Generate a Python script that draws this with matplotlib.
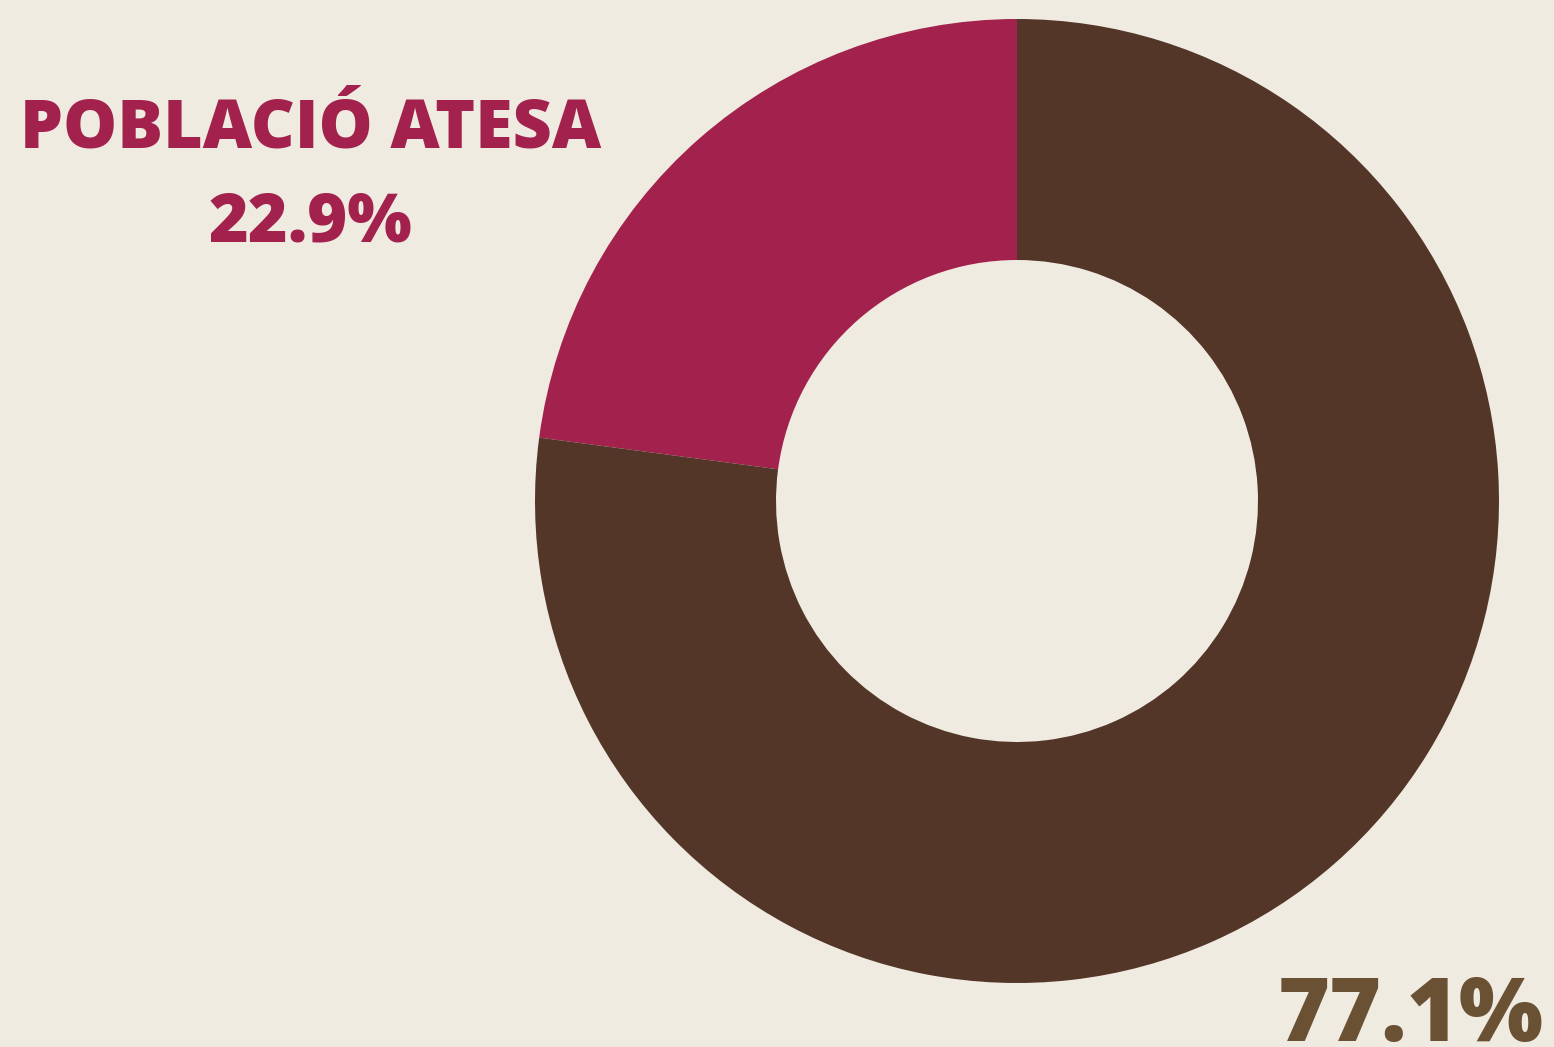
import matplotlib
matplotlib.use("Agg")
import matplotlib.pyplot as plt

labels = ["POBLACIÓ ATESA", "Resta"]
values = [22.9, 77.1]
colors = ["#A3214D", "#533627"]
bg = "#EFEBE1"

fig = plt.figure(figsize=(15.54, 10.47), dpi=100, facecolor=bg)
W, H = 1554, 1047
cx, cy, R = 1017, 501, 482
ax = fig.add_axes([(cx - R) / W, 1 - (cy + R) / H, 2 * R / W, 2 * R / H])
ax.set_facecolor(bg)
ax.pie(values, colors=colors, startangle=90, counterclock=True,
       radius=1.0, wedgeprops=dict(width=0.5, linewidth=0))
ax.set_xlim(-1, 1)
ax.set_ylim(-1, 1)
ax.set_aspect("equal")
ax.axis("off")

fam = ["Open Sans", "DejaVu Sans"]
fig.text(311 / W, 1 - 148 / H, labels[0], ha="center", va="baseline",
         fontsize=49, fontweight="heavy", color=colors[0], family=fam)
fig.text(310 / W, 1 - 241 / H, f"{values[0]}%", ha="center", va="baseline",
         fontsize=49, fontweight="heavy", color=colors[0], family=fam)
fig.text(1411 / W, 1 - 1041 / H, f"{values[1]}%", ha="center", va="baseline",
         fontsize=64, fontweight="heavy", color="#6B5134", family=fam)

fig.savefig("out.png", dpi=100, facecolor=bg)
